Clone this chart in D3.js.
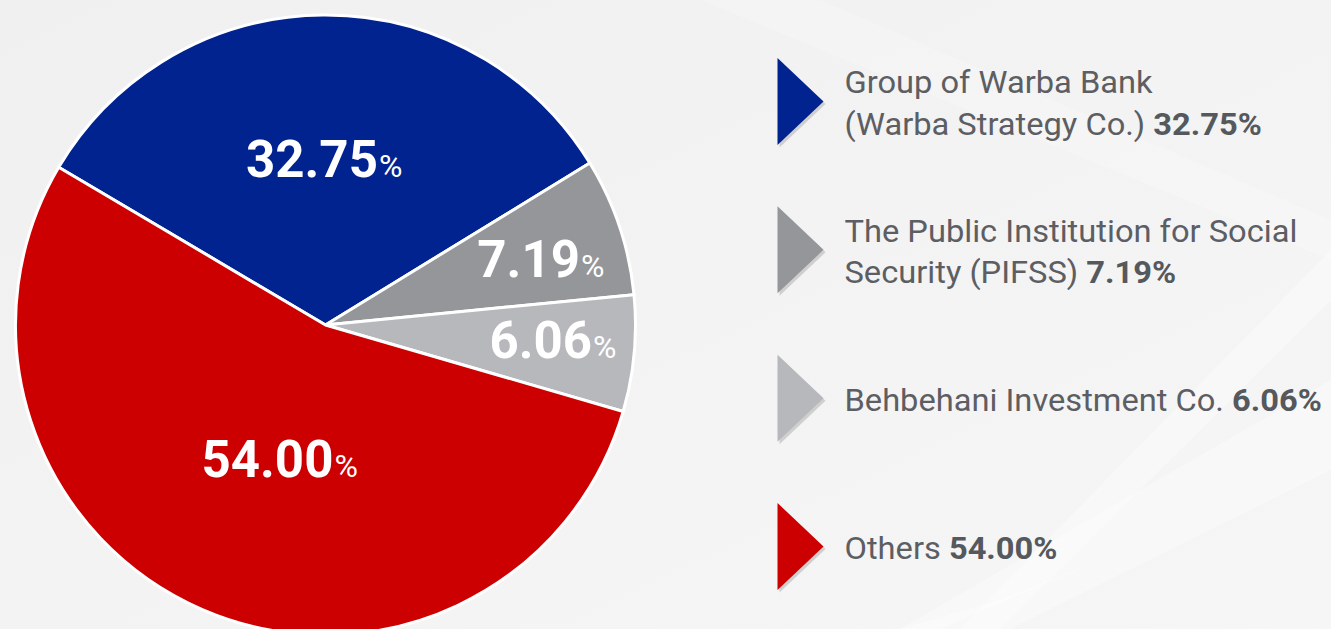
<!DOCTYPE html>
<html><head><meta charset="utf-8">
<script src="https://cdn.jsdelivr.net/npm/d3@7"></script>
<style>
html,body{margin:0;padding:0;overflow:hidden;background:#f3f3f3;}
svg{display:block;}
</style></head>
<body>
<svg id="chart" width="1331" height="629"></svg>
<script>
// ---- data ----
const categories = ["Group of Warba Bank (Warba Strategy Co.)", "The Public Institution for Social Security (PIFSS)", "Behbehani Investment Co.", "Others"];
const values = [32.75, 7.19, 6.06, 54.00];
const legendLines = [["Group of Warba Bank", "(Warba Strategy Co.)"], ["The Public Institution for Social", "Security (PIFSS)"], ["Behbehani Investment Co."], ["Others"]];
const valueLabels = ["32.75", "7.19", "6.06", "54.00"];

// ---- style ----
const colors = ["#00238f", "#95969a", "#b7b8bc", "#cc0000"];
const labelRadius = [166, 225, 228, 142];
const labelAngleShift = [0, 0.03, -0.025, -0.08];

const W = 1331, H = 629;
const svg = d3.select("#chart");

// background
const defs = svg.append("defs");
const bg = defs.append("linearGradient").attr("id", "bg").attr("x1", 0).attr("y1", 0).attr("x2", 1).attr("y2", 1);
bg.append("stop").attr("offset", 0).attr("stop-color", "#f0f0f0");
bg.append("stop").attr("offset", 1).attr("stop-color", "#f6f6f6");
svg.append("rect").attr("width", W).attr("height", H).attr("fill", "url(#bg)");
const bands = [
  [[1331,380],[1331,470],[1010,629],[900,629]],
  [[1331,250],[1331,300],[1000,629],[960,629]],
  [[1000,600],[1100,560],[940,629],[900,629]],
  [[700,0],[820,0],[1331,220],[1331,260]]
];
svg.append("g").selectAll("path").data(bands).join("path")
  .attr("d", d => "M" + d.join("L") + "Z")
  .attr("fill", "#ffffff").attr("opacity", (d, i) => i === 3 ? 0.2 : 0.35);

// pie
const cx = 325.5, cy = 325, R = 310;
const start = -59.4 * Math.PI / 180;
const pie = d3.pie().sort(null).startAngle(start).endAngle(start + 2 * Math.PI);
const arcs = pie(values);
const arc = d3.arc().innerRadius(0).outerRadius(R);
const g = svg.append("g").attr("transform", `translate(${cx},${cy})`);
g.selectAll("path").data(arcs).join("path")
  .attr("d", arc)
  .attr("fill", (d, i) => colors[i])
  .attr("stroke", "#ffffff").attr("stroke-width", 3).attr("stroke-linejoin", "round");

const lbl = g.selectAll("text.val").data(arcs).join("text").attr("class", "val")
  .attr("text-anchor", "middle")
  .attr("font-family", "Roboto, sans-serif")
  .attr("fill", "#ffffff")
  .attr("transform", (d, i) => {
    const a = (d.startAngle + d.endAngle) / 2 + labelAngleShift[i];
    const r = labelRadius[i];
    return `translate(${Math.sin(a) * r},${-Math.cos(a) * r + 17.5})`;
  });
lbl.append("tspan").attr("font-size", 51).attr("font-weight", 700).text((d, i) => valueLabels[i]);
lbl.append("tspan").attr("font-size", 32).attr("font-weight", 400).attr("dx", 1).text("%");

// legend
const lx = 777.5, triW = 46, triH = 87;
const ly = d3.scaleLinear().domain([0, 3]).range([101.5, 546.5]);
const lineH = 41.5;
const lg = svg.append("g");
const items = lg.selectAll("g.item").data(categories).join("g").attr("class", "item")
  .attr("transform", (d, i) => `translate(${lx},${ly(i)})`);
const triPath = `M0,${-triH/2}L${triW},0L0,${triH/2}Z`;
items.append("path").attr("d", triPath).attr("fill", "#cfcfcf").attr("transform", "translate(2,2.5)");
items.append("path").attr("d", triPath).attr("fill", (d, i) => colors[i]);

const texts = items.append("g").attr("class", "txt").attr("transform", "translate(67,0)");
texts.each(function(d, i) {
  const lines = legendLines[i];
  const n = lines.length;
  const t = d3.select(this).append("text")
    .attr("font-family", "Roboto, sans-serif").attr("font-size", 32)
    .attr("fill", "#5c5e63");
  lines.forEach((ln, j) => {
    t.append("tspan").attr("x", 0).attr("y", -(n - 1) * lineH / 2 + j * lineH + 12.5).text(ln);
    if (j === n - 1) {
      t.append("tspan").attr("font-weight", 700).attr("fill", "#55585c").text(" " + valueLabels[i] + "%");
    }
  });
});
// condense legend text horizontally to match target width
const probe = texts.filter((d, i) => i === 1).select("text tspan").node();
const k = 453 / probe.getComputedTextLength();
texts.attr("transform", `translate(67,0) scale(${k},1)`);
</script>
</body></html>
